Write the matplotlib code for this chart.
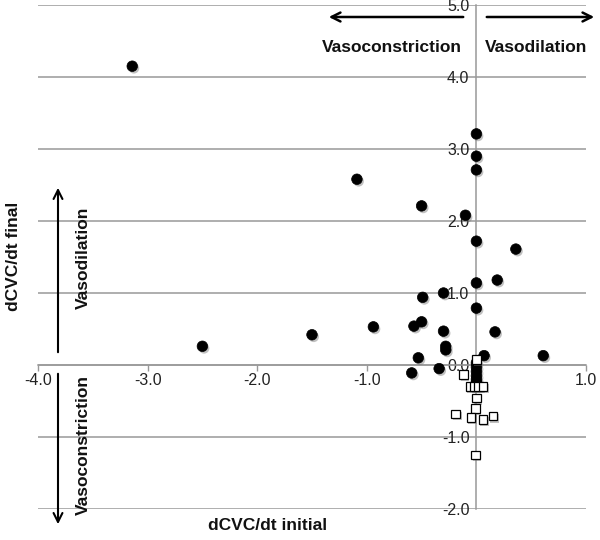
import numpy as np
import matplotlib
matplotlib.use('Agg')
import matplotlib.pyplot as plt
import matplotlib.patheffects as pe

plt.rcParams['font.family'] = ['Liberation Sans', 'DejaVu Sans']

# filled circles (dCVC/dt initial, dCVC/dt final)
circ_x = [-3.14, -2.50, -1.50, -1.09, -0.94, -0.59, -0.57, -0.53, -0.50, -0.50,
          -0.49, -0.34, -0.30, -0.30, -0.28, -0.28, -0.10, 0.0, 0.0, 0.0,
          0.0, 0.0, 0.0, 0.07, 0.17, 0.19, 0.36, 0.61,
          0.0, 0.0, 0.0, 0.0, 0.0, 0.0]
circ_y = [4.15, 0.26, 0.42, 2.58, 0.53, -0.11, 0.54, 0.10, 0.60, 2.21,
          0.94, -0.05, 1.00, 0.47, 0.26, 0.21, 2.08, 3.21, 2.90, 2.71,
          1.72, 1.14, 0.79, 0.13, 0.46, 1.18, 1.61, 0.13,
          0.03, -0.03, -0.09, -0.15, -0.20, -0.24]

# open squares
sq_x = [0.0, -0.12, -0.06, -0.02, 0.02, 0.06, 0.0, -0.01, -0.19, -0.05, 0.06, 0.15, -0.01]
sq_y = [0.08, -0.13, -0.30, -0.30, -0.30, -0.30, -0.46, -0.60, -0.68, -0.73, -0.76, -0.71, -1.25]

xticks = [-4, -3, -2, -1, 1]
yticks = [-2, -1, 0, 1, 2, 3, 4, 5]

W, H = 600, 540
fig = plt.figure(figsize=(6, 5.4), dpi=100)
ax = fig.add_axes([38 / W, 1 - 509 / H, 548 / W, 504 / H])
ax.set_xlim(-4, 1)
ax.set_ylim(-2, 5)

shadow = [pe.SimplePatchShadow(offset=(1.2, -1.5), shadow_rgbFace='#777777', alpha=0.45), pe.Normal()]

for y in yticks:
    ax.axhline(y, color='#999999', lw=1.1, zorder=1)

ax.plot(circ_x, circ_y, 'o', ms=7.6, mfc='black', mec='black', mew=0.5,
        path_effects=shadow, zorder=4, clip_on=False)
ax.plot(sq_x, sq_y, 's', ms=6.2, mfc='white', mec='black', mew=0.9,
        path_effects=shadow, zorder=5, clip_on=False)

for s in ['top', 'right']:
    ax.spines[s].set_visible(False)
ax.spines['left'].set_position(('data', 0))
ax.spines['bottom'].set_position(('data', 0))
ax.spines['left'].set_color('#999999')
ax.spines['bottom'].set_color('#999999')
ax.spines['left'].set_linewidth(1.1)
ax.spines['bottom'].set_linewidth(1.1)
ax.spines['left'].set_zorder(2)
ax.spines['bottom'].set_zorder(2)

ax.set_xticks(xticks)
ax.set_xticklabels(['%.1f' % v for v in xticks])
ax.set_yticks(yticks)
ax.set_yticklabels(['%.1f' % v for v in yticks])
ax.tick_params(axis='x', direction='out', length=4, width=1, color='#999999',
               labelsize=11.5, labelcolor='#222222', pad=2)
ax.tick_params(axis='y', length=0, labelsize=11.5, labelcolor='#222222', pad=5)
for lab in ax.get_yticklabels():
    lab.set_zorder(3)


def fx(px):
    return px / W


def fy(py):
    return 1 - py / H


bold = dict(fontweight='bold', fontsize=12.5, color='#111111')

# top annotations
fig.text(fx(392), fy(47), 'Vasoconstriction', ha='center', va='center', **bold)
fig.text(fx(536), fy(47), 'Vasodilation', ha='center', va='center', **bold)
fig.add_artist(matplotlib.patches.FancyArrowPatch((fx(466), fy(17)), (fx(326), fy(17)),
               transform=fig.transFigure, arrowstyle='->', mutation_scale=16, lw=1.8, color='black'))
fig.add_artist(matplotlib.patches.FancyArrowPatch((fx(484), fy(17)), (fx(597), fy(17)),
               transform=fig.transFigure, arrowstyle='->', mutation_scale=16, lw=1.8, color='black'))

# left annotations
fig.text(fx(14), fy(256), 'dCVC/dt final', rotation=90, ha='center', va='center', **bold)
fig.text(fx(83), fy(258), 'Vasodilation', rotation=90, ha='center', va='center', **bold)
fig.text(fx(83), fy(445), 'Vasoconstriction', rotation=90, ha='center', va='center', **bold)
fig.add_artist(matplotlib.patches.FancyArrowPatch((fx(58), fy(355)), (fx(58), fy(185)),
               transform=fig.transFigure, arrowstyle='->', mutation_scale=16, lw=1.5, color='black'))
fig.add_artist(matplotlib.patches.FancyArrowPatch((fx(58), fy(371)), (fx(58), fy(527)),
               transform=fig.transFigure, arrowstyle='->', mutation_scale=16, lw=1.5, color='black'))

# bottom label
fig.text(fx(268), fy(526), 'dCVC/dt initial', ha='center', va='center', **bold)

fig.savefig('out.png', dpi=100)
